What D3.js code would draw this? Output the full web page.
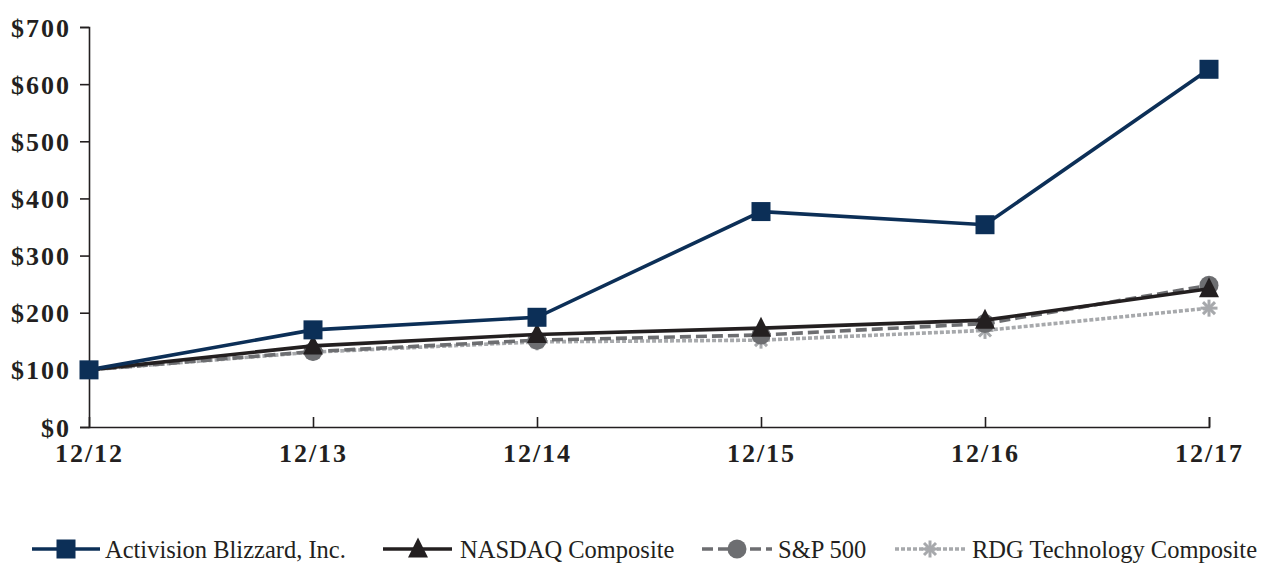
<!DOCTYPE html>
<html><head><meta charset="utf-8">
<script src="https://cdn.jsdelivr.net/npm/d3@7"></script>
<style>
html,body{margin:0;padding:0;background:#fff;}
svg{display:block;}
</style></head>
<body><svg id="c" width="1266" height="575"></svg>
<script>
const categories = ["12/12","12/13","12/14","12/15","12/16","12/17"];
const activision = [100, 170, 192, 377, 354, 626];
const nasdaq = [100, 142, 162, 173, 187, 242];
const sp500 = [100, 132, 152, 161, 181, 248];
const rdg = [100, 131, 149, 152, 169, 208];
const yTicks = [0,100,200,300,400,500,600,700];
const seriesNames = ["Activision Blizzard, Inc.","NASDAQ Composite","S&P 500","RDG Technology Composite"];

const series = [
  {name: seriesNames[0], values: activision, color:"#0c2f57", dash:null, marker:"square"},
  {name: seriesNames[1], values: nasdaq, color:"#231f20", dash:null, marker:"triangle"},
  {name: seriesNames[2], values: sp500, color:"#6d6e71", dash:"11,5", marker:"circle"},
  {name: seriesNames[3], values: rdg, color:"#a7a9ac", dash:"4,2", marker:"asterisk"}
];

const svg = d3.select("#c");
const x = d3.scalePoint().domain(categories).range([89,1209]);
const y = d3.scaleLinear().domain([0,700]).range([427,27]);
const serif = "'Liberation Serif','Times New Roman',serif";
const axisColor = "#231f20";

const yAxis = svg.append("g").attr("transform","translate(89,0)")
  .call(d3.axisLeft(y).tickValues(yTicks).tickSize(9).tickPadding(9).tickFormat(d=>"$"+d));
const xAxis = svg.append("g").attr("transform","translate(0,427)")
  .call(d3.axisBottom(x).tickSize(-10).tickPadding(17));
[yAxis,xAxis].forEach(g=>{
  g.select(".domain").attr("stroke",axisColor).attr("stroke-width",1.6);
  g.selectAll(".tick line").attr("stroke",axisColor).attr("stroke-width",1.6);
  g.selectAll("text").attr("fill","#231f20").attr("font-family",serif)
   .attr("font-weight","bold").attr("font-size",26).attr("letter-spacing","2px");
});
xAxis.selectAll(".tick text").attr("dy","0.71em");
yAxis.selectAll(".tick text").attr("dy","0.35em");
xAxis.selectAll(".tick line").filter(d=>d===categories[0]).remove();

function drawMarker(g, type, cx, cy, color, s){
  if(type==="square"){
    g.append("rect").attr("x",cx-s/2).attr("y",cy-s/2).attr("width",s).attr("height",s).attr("fill",color);
  } else if(type==="triangle"){
    const h=s*1.0, w=s*1.05;
    g.append("path").attr("d",`M${cx},${cy-h*0.6} L${cx+w/2},${cy+h*0.45} L${cx-w/2},${cy+h*0.45} Z`).attr("fill",color);
  } else if(type==="circle"){
    g.append("circle").attr("cx",cx).attr("cy",cy).attr("r",s/2).attr("fill",color);
  } else if(type==="asterisk"){
    const r=s/2;
    for(let i=0;i<4;i++){
      const a=i*Math.PI/4;
      g.append("line").attr("x1",cx-r*Math.cos(a)).attr("y1",cy-r*Math.sin(a))
        .attr("x2",cx+r*Math.cos(a)).attr("y2",cy+r*Math.sin(a))
        .attr("stroke",color).attr("stroke-width",3);
    }
  }
}

const line = d3.line().x((d,i)=>x(categories[i])).y(d=>y(d));
const order = [3,2,1,0];
order.forEach(k=>{
  const s = series[k];
  const g = svg.append("g");
  g.append("path").datum(s.values).attr("d",line).attr("fill","none")
    .attr("stroke",s.color).attr("stroke-width",3.6)
    .attr("stroke-dasharray",s.dash);
  s.values.forEach((v,i)=>{
    if(k===0 || i>0) drawMarker(g, s.marker, x(categories[i]), y(v), s.color, k===3?17:19);
  });
});

const legendY = 549;
const legend = [
  {x1:32,x2:100,mx:66,tx:105},
  {x1:383,x2:452,mx:418,tx:460},
  {x1:702,x2:772,mx:737,tx:778},
  {x1:895,x2:966,mx:930,tx:972}
];
series.forEach((s,k)=>{
  const L = legend[k];
  const g = svg.append("g");
  g.append("line").attr("x1",L.x1).attr("x2",L.x2).attr("y1",legendY).attr("y2",legendY)
    .attr("stroke",s.color).attr("stroke-width",3.6).attr("stroke-dasharray",s.dash);
  drawMarker(g, s.marker, L.mx, legendY, s.color, k===3?17:19);
  g.append("text").attr("x",L.tx).attr("y",legendY).attr("dy","0.35em")
    .attr("font-family",serif).attr("font-size",24.5).attr("fill","#231f20").text(s.name);
});
</script></body></html>
